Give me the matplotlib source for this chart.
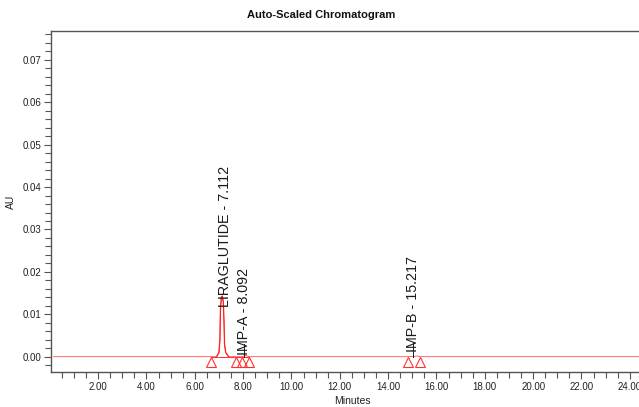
import matplotlib
matplotlib.use("Agg")
import matplotlib.pyplot as plt
from matplotlib.ticker import MultipleLocator
from matplotlib.transforms import offset_copy

plt.rcParams['font.family'] = ['Liberation Sans', 'DejaVu Sans']

# chromatogram trace (minutes, AU)
trace_t = [0.15, 6.6, 6.9, 7.0, 7.04, 7.06, 7.10, 7.13, 7.18, 7.21, 7.23, 7.28, 7.4,
           7.95, 8.05, 8.092, 8.15, 8.25, 14.8, 15.1, 15.217, 15.3, 25.0]
trace_au = [0.0, 0.0, 0.0, 0.001, 0.004, 0.011, 0.0140, 0.0143, 0.013, 0.008, 0.003, 0.001, 0.0,
            0.0, 0.0002, 0.0003, 0.0002, 0.0, 0.0, 0.0001, 0.0002, 0.0, 0.0]

# integration markers (peak start / end)
marker_t = [6.68, 7.71, 7.95, 8.24, 14.82, 15.32]

# peak labels
peak_names = ["LIRAGLUTIDE", "IMP-A", "IMP-B"]
peak_rt = [7.112, 8.092, 15.217]

fig = plt.figure(figsize=(6.39, 4.07), dpi=100)
ax = fig.add_axes([51/639, 35/407, 1 - 51/639, 341/407])

ax.plot(trace_t, trace_au, color='#ff3030', lw=0.5, zorder=2)
# main peak drawn a bit heavier
ax.plot(trace_t[2:13], trace_au[2:13], color='#ff2020', lw=0.9, zorder=2)
# integration baseline under the main peaks
ax.plot([6.68, 8.24], [0, 0], color='#ff3030', lw=0.7, zorder=2)

tr = offset_copy(ax.transData, fig=fig, x=0, y=-5, units='dots')
ax.plot(marker_t, [0]*len(marker_t), linestyle='none', marker='^', markersize=7,
        mfc='none', mec='#ff3030', mew=0.8, transform=tr, zorder=3)

# labels: x placement offsets & baseline of text (in AU)
label_dx = [0.13, -0.04, -0.2]
label_y = [0.0118, 0.0004, 0.0010]
for name, rt, dx, ly in zip(peak_names, peak_rt, label_dx, label_y):
    ax.text(rt + dx, ly, f"{name} - {rt:.3f}", rotation=90, ha='center', va='bottom',
            fontsize=10.3, color='#1a1a1a', zorder=4)
    if name != "LIRAGLUTIDE":
        ax.plot([rt + dx, rt + dx], [0, ly + 0.0025], color='#1a1a1a', lw=0.7, zorder=4)

ax.set_xlim(0.05, 24.38)
ax.set_ylim(-0.0036, 0.0768)
ax.xaxis.set_major_locator(MultipleLocator(2))
ax.xaxis.set_minor_locator(MultipleLocator(0.5))
ax.yaxis.set_major_locator(MultipleLocator(0.01))
ax.yaxis.set_minor_locator(MultipleLocator(0.002))

def xfmt(v, pos):
    return '' if abs(v) < 1e-9 else f"{v:.2f}"
ax.xaxis.set_major_formatter(plt.FuncFormatter(xfmt))
ax.yaxis.set_major_formatter(plt.FuncFormatter(lambda v, p: f"{v:.2f}"))

for s in ['left', 'bottom', 'top']:
    ax.spines[s].set_color('#555555')
    ax.spines[s].set_linewidth(1.0)
ax.spines['right'].set_visible(False)
ax.tick_params(which='both', direction='out', color='#555555', width=0.8,
               labelsize=7, labelcolor='#222222', pad=2)
ax.tick_params(which='major', length=5)
ax.tick_params(which='minor', length=4)

ax.set_xlabel("Minutes", fontsize=7.5, color='#222222')
ax.xaxis.set_label_coords((352 - 51) / 588, -(396 - 372) / 341)
ax.set_ylabel("AU", fontsize=7.5, color='#222222')
ax.yaxis.set_label_coords((16 - 51) / 588, 0.5)

fig.text(321/639, 1 - 15/407, "Auto-Scaled Chromatogram", ha='center', va='center',
         fontsize=8, fontweight='bold', color='#111111')

fig.savefig("out.png", dpi=100)
